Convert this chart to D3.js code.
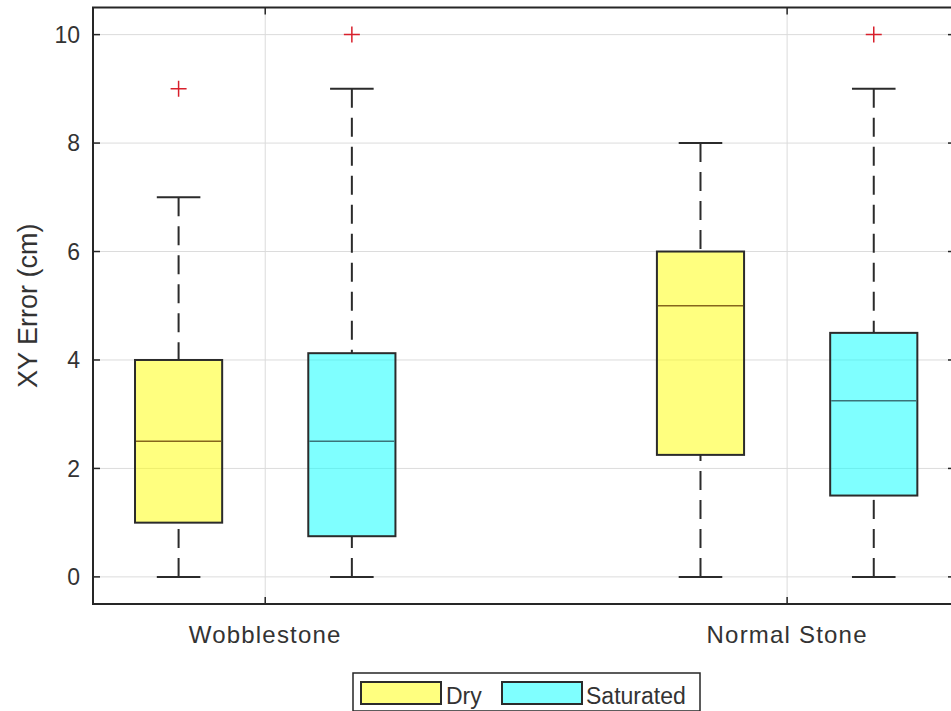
<!DOCTYPE html>
<html>
<head>
<meta charset="utf-8">
<script src="https://cdn.jsdelivr.net/npm/d3@7"></script>
<style>
  body { margin: 0; background: #fff; }
  text { font-family: "Liberation Sans", Arial, sans-serif; }
</style>
</head>
<body>
<svg width="951" height="711"></svg>
<script>
// box data, order: Wobblestone Dry, Wobblestone Saturated, Normal Stone Dry, Normal Stone Saturated
const categories = ["Wobblestone", "Normal Stone"];
const groups = ["Dry", "Saturated"];
const whiskerLow = [0, 0, 0, 0];
const quartile1 = [1, 0.75, 2.25, 1.5];
const medians = [2.5, 2.5, 5, 3.25];
const quartile3 = [4, 4.125, 6, 4.5];
const whiskerHigh = [7, 9, 8, 9];
const outliers = [[9], [10], [], [10]];
const yTicks = [0, 2, 4, 6, 8, 10];

var svg = d3.select("svg");

// plot area (window.top is reserved, so prefixed names)
var pLeft = 93, pRight = 951, pTop = 7.5, pBottom = 604;
// the right edge of the axes box sits just past the picture
var frameRight = 955;

var x = d3.scaleLinear().domain([0.67, 2.314]).range([pLeft, pRight]);
var y = d3.scaleLinear().domain([-0.5, 10.5]).range([pBottom, pTop]);

var fills = { Dry: "#ffff00", Saturated: "#00ffff" };
var medianColors = { Dry: "#86661c", Saturated: "#3b7479" };
var offset = 0.166, boxW = 0.167;

var boxes = medians.map(function(m, i) {
  var g = groups[i % 2];
  return {
    pos: 1 + Math.floor(i / 2) + (i % 2 === 0 ? -offset : offset),
    group: g,
    lo: whiskerLow[i],
    q1: quartile1[i],
    med: m,
    q3: quartile3[i],
    hi: whiskerHigh[i],
    out: outliers[i]
  };
});

// grid
svg.append("g")
  .selectAll("line")
  .data(yTicks)
  .enter()
  .append("line")
  .attr("x1", pLeft)
  .attr("x2", frameRight)
  .attr("y1", d => y(d))
  .attr("y2", d => y(d))
  .attr("stroke", "#dcdcdc")
  .attr("stroke-width", 1);

svg.append("g")
  .selectAll("line")
  .data(categories)
  .enter()
  .append("line")
  .attr("x1", (d, i) => x(i + 1))
  .attr("x2", (d, i) => x(i + 1))
  .attr("y1", pTop)
  .attr("y2", pBottom)
  .attr("stroke", "#dcdcdc")
  .attr("stroke-width", 1);

var b = svg.append("g")
  .selectAll("g")
  .data(boxes)
  .enter()
  .append("g");

// whiskers (dashed, drawn from the cap toward the box)
b.append("line")
  .attr("x1", d => x(d.pos))
  .attr("x2", d => x(d.pos))
  .attr("y1", d => y(d.hi))
  .attr("y2", d => y(d.q3))
  .attr("stroke", "#2b2b2b")
  .attr("stroke-width", 2)
  .attr("stroke-dasharray", "19,10");

b.append("line")
  .attr("x1", d => x(d.pos))
  .attr("x2", d => x(d.pos))
  .attr("y1", d => y(d.lo))
  .attr("y2", d => y(d.q1))
  .attr("stroke", "#2b2b2b")
  .attr("stroke-width", 2)
  .attr("stroke-dasharray", "19,10");

// caps
["hi", "lo"].forEach(function(k) {
  b.append("line")
    .attr("x1", d => x(d.pos - boxW / 4))
    .attr("x2", d => x(d.pos + boxW / 4))
    .attr("y1", d => y(d[k]))
    .attr("y2", d => y(d[k]))
    .attr("stroke", "#2b2b2b")
    .attr("stroke-width", 2);
});

// boxes
b.append("rect")
  .attr("x", d => x(d.pos - boxW / 2))
  .attr("width", d => x(d.pos + boxW / 2) - x(d.pos - boxW / 2))
  .attr("y", d => y(d.q3))
  .attr("height", d => y(d.q1) - y(d.q3))
  .attr("fill", d => fills[d.group])
  .attr("fill-opacity", 0.5)
  .attr("stroke", "#2b2b2b")
  .attr("stroke-width", 2);

b.append("line")
  .attr("x1", d => x(d.pos - boxW / 2) + 1)
  .attr("x2", d => x(d.pos + boxW / 2) - 1)
  .attr("y1", d => y(d.med))
  .attr("y2", d => y(d.med))
  .attr("stroke", d => medianColors[d.group])
  .attr("stroke-width", 1.5);

// outliers
b.selectAll("path")
  .data(d => d.out.map(v => ({ pos: d.pos, v: v })))
  .enter()
  .append("path")
  .attr("d", d => {
    var cx = x(d.pos), cy = y(d.v);
    return "M" + (cx - 8) + "," + cy + "H" + (cx + 8) + "M" + cx + "," + (cy - 8) + "V" + (cy + 8);
  })
  .attr("stroke", "#d8202c")
  .attr("stroke-width", 1.5)
  .attr("fill", "none");

// axes frame
svg.append("rect")
  .attr("x", pLeft)
  .attr("y", pTop)
  .attr("width", frameRight - pLeft)
  .attr("height", pBottom - pTop)
  .attr("fill", "none")
  .attr("stroke", "#262626")
  .attr("stroke-width", 2);

// inner ticks
var tickG = svg.append("g").attr("stroke", "#262626").attr("stroke-width", 1.5);
yTicks.forEach(function(t) {
  tickG.append("line").attr("x1", pLeft).attr("x2", pLeft + 7).attr("y1", y(t)).attr("y2", y(t));
  tickG.append("line").attr("x1", frameRight).attr("x2", frameRight - 7).attr("y1", y(t)).attr("y2", y(t));
});
categories.forEach(function(c, i) {
  tickG.append("line").attr("x1", x(i + 1)).attr("x2", x(i + 1)).attr("y1", pTop).attr("y2", pTop + 7);
  tickG.append("line").attr("x1", x(i + 1)).attr("x2", x(i + 1)).attr("y1", pBottom).attr("y2", pBottom - 7);
});

// tick labels
svg.append("g")
  .selectAll("text")
  .data(yTicks)
  .enter()
  .append("text")
  .attr("x", pLeft - 13)
  .attr("y", d => y(d))
  .attr("dy", "0.36em")
  .attr("text-anchor", "end")
  .attr("fill", "#333")
  .style("font-size", "23px")
  .text(d => d);

svg.append("g")
  .selectAll("text")
  .data(categories)
  .enter()
  .append("text")
  .attr("x", (d, i) => x(i + 1))
  .attr("y", 643)
  .attr("text-anchor", "middle")
  .attr("fill", "#333")
  .style("font-size", "24px")
  .style("letter-spacing", "1.2px")
  .text(d => d);

// y label
svg.append("text")
  .attr("transform", "translate(37," + (pTop + pBottom) / 2 + ") rotate(-90)")
  .attr("text-anchor", "middle")
  .attr("fill", "#333")
  .style("font-size", "27px")
  .text("XY Error (cm)");

// legend
var leg = svg.append("g");
leg.append("rect")
  .attr("x", 353)
  .attr("y", 673)
  .attr("width", 347)
  .attr("height", 38)
  .attr("fill", "#fff")
  .attr("stroke", "#262626")
  .attr("stroke-width", 1.5);

var legX = [361, 502];
var legTextX = [446, 586];
groups.forEach(function(g, i) {
  leg.append("rect")
    .attr("x", legX[i])
    .attr("y", 682)
    .attr("width", 80)
    .attr("height", 22)
    .attr("fill", fills[g])
    .attr("fill-opacity", 0.5)
    .attr("stroke", "#2b2b2b")
    .attr("stroke-width", 2);
  leg.append("text")
    .attr("x", legTextX[i])
    .attr("y", 704)
    .attr("fill", "#333")
    .style("font-size", "23px")
    .text(g);
});
</script>
</body>
</html>
